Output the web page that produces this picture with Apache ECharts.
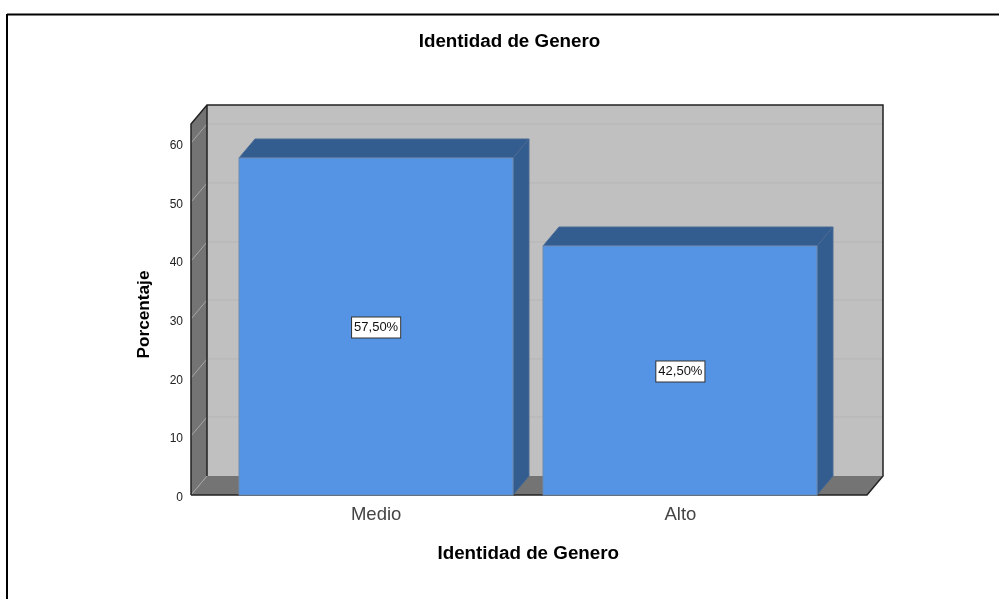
<!DOCTYPE html>
<html>
<head>
<meta charset="utf-8">
<style>html,body{margin:0;background:#fff}#main{width:999px;height:599px}</style>
<script src="https://cdn.jsdelivr.net/npm/echarts@6/dist/echarts.min.js"></script>
</head>
<body>
<div id="main"></div>
<script>
var categories = ['Medio', 'Alto'];
var percentValues = [57.5, 42.5];
var yTicks = [0, 10, 20, 30, 40, 50, 60];

// profundidad del efecto 3D
var depthX = 16;
var depthY = -19;
// la pared frontal sobresale de la banda de categorias
var wallPadLeft = 33;
var wallPadRight = 34.5;

var myChart = echarts.init(document.getElementById('main'), null, {renderer: 'canvas'});

function renderWalls(params, api) {
	var cs = params.coordSys;
	var l = cs.x - wallPadLeft, r = cs.x + cs.width + wallPadRight;
	var t = cs.y, b = cs.y + cs.height;
	var dark = {stroke: '#222222', lineWidth: 1.5, fill: null};
	var children = [
		{type: 'rect', shape: {x: l + depthX, y: t + depthY, width: r - l, height: b - t}, style: {fill: '#c0c0c0'}},
		{type: 'polygon', shape: {points: [[l, t], [l + depthX, t + depthY], [l + depthX, b + depthY], [l, b]]}, style: {fill: '#747474'}},
		{type: 'polygon', shape: {points: [[l, b], [l + depthX, b + depthY], [r + depthX, b + depthY], [r, b]]}, style: {fill: '#747474'}}
	];
	for (var i = 0; i < yTicks.length; i++) {
		var y = Math.round(api.coord([0, yTicks[i]])[1]);
		if (yTicks[i] > 0) {
			children.push({type: 'line', shape: {x1: l + depthX, y1: y + depthY, x2: r + depthX, y2: y + depthY}, style: {stroke: '#b5b5b5', lineWidth: 1}});
		}
		children.push({type: 'line', shape: {x1: l, y1: y, x2: l + depthX, y2: y + depthY}, style: {stroke: '#a6a6a6', lineWidth: 1}});
	}
	children.push({type: 'polyline', shape: {points: [[l, b], [l, t], [l + depthX, t + depthY], [r + depthX, t + depthY], [r + depthX, b + depthY], [r, b], [l, b]]}, style: dark});
	children.push({type: 'line', shape: {x1: l + depthX, y1: t + depthY, x2: l + depthX, y2: b + depthY}, style: {stroke: '#222222', lineWidth: 1.5}});
	return {type: 'group', children: children};
}

function renderBar(params, api) {
	var top = api.coord([api.value(0), api.value(1)]);
	var base = api.coord([api.value(0), 0]);
	var w = api.size([1, 0])[0] * 0.9;
	var x0 = Math.round(top[0] - w / 2), x1 = Math.round(top[0] + w / 2);
	var y0 = Math.round(top[1]), y1 = Math.round(base[1]);
	var edge = {fill: '#335c8f', stroke: '#4a6a94', lineWidth: 1};
	var txt = api.value(1).toFixed(2).replace('.', ',') + '%';
	return {type: 'group', children: [
		{type: 'polygon', shape: {points: [[x0, y0], [x0 + depthX, y0 + depthY], [x1 + depthX, y0 + depthY], [x1, y0]]}, style: edge},
		{type: 'polygon', shape: {points: [[x1, y0], [x1 + depthX, y0 + depthY], [x1 + depthX, y1 + depthY], [x1, y1]]}, style: edge},
		{type: 'rect', shape: {x: x0, y: y0, width: x1 - x0, height: y1 - y0}, style: {fill: '#5594e4', stroke: '#6c8ab0', lineWidth: 1}},
		{type: 'text', x: top[0], y: (y0 + y1) / 2 + 1, style: {
			text: txt, fill: '#111111', font: '13px "Liberation Sans"', align: 'center', verticalAlign: 'middle',
			backgroundColor: '#ffffff', borderColor: '#333333', borderWidth: 1, padding: [4, 2, 3, 2]
		}}
	]};
}

var barData = [];
for (var i = 0; i < categories.length; i++) {
	barData.push([i, percentValues[i]]);
}

var option = {
	backgroundColor: '#ffffff',
	animation: false,
	textStyle: {fontFamily: 'Liberation Sans'},
	title: {
		text: 'Identidad de Genero',
		left: 504.5,
		top: 27,
		textAlign: 'center',
		textStyle: {fontFamily: 'Liberation Sans', fontSize: 18.8, fontWeight: 'bold', color: '#000000'}
	},
	grid: {left: 224, top: 124, width: 608.5, height: 371},
	xAxis: {
		type: 'category',
		data: categories,
		name: 'Identidad de Genero',
		nameLocation: 'middle',
		nameGap: 49,
		nameMoveOverlap: false,
		nameTextStyle: {fontSize: 18.8, fontWeight: 'bold', color: '#000000', fontFamily: 'Liberation Sans'},
		axisLine: {show: false},
		axisTick: {show: false},
		axisLabel: {fontSize: 18.5, color: '#444444', margin: 10, fontFamily: 'Liberation Sans'}
	},
	yAxis: {
		type: 'value',
		min: 0,
		max: 63.3,
		interval: 10,
		offset: wallPadLeft,
		name: 'Porcentaje',
		nameLocation: 'middle',
		nameGap: 38,
		nameRotate: 90,
		nameMoveOverlap: false,
		nameTextStyle: {fontSize: 17.2, fontWeight: 'bold', color: '#000000', fontFamily: 'Liberation Sans', padding: [0, 10, 0, 0]},
		axisLine: {show: false},
		axisTick: {show: false},
		splitLine: {show: false},
		axisLabel: {fontSize: 12, color: '#222222', margin: 8, showMaxLabel: false, fontFamily: 'Liberation Sans', verticalAlign: 'top', lineHeight: 5}
	},
	series: [
		{type: 'custom', z: 1, clip: false, silent: true, data: [[0, 0]], encode: {x: 0, y: 1}, renderItem: renderWalls},
		{type: 'custom', z: 2, clip: false, data: barData, encode: {x: 0, y: 1}, renderItem: renderBar}
	],
	graphic: [
		{type: 'line', z: 10, shape: {x1: 7, y1: 14.5, x2: 999, y2: 14.5}, style: {stroke: '#000000', lineWidth: 2}},
		{type: 'line', z: 10, shape: {x1: 7, y1: 14, x2: 7, y2: 599}, style: {stroke: '#000000', lineWidth: 2}}
	]
};
myChart.setOption(option);
</script>
</body>
</html>
